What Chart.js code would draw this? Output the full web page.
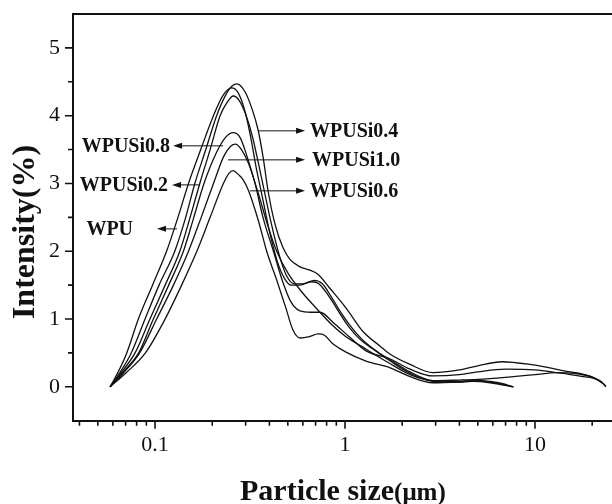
<!DOCTYPE html>
<html>
<head>
<meta charset="utf-8">
<script src="https://cdn.jsdelivr.net/npm/chart.js@4.4.1/dist/chart.umd.min.js"></script>
<style>
  html, body { margin: 0; padding: 0; background: #fff; }
</style>
</head>
<body>
<canvas id="psd" width="612" height="504"></canvas>
<script>
// particle size (um) / intensity (%)
const sizeWPU = [0.058, 0.064, 0.071, 0.0817, 0.097, 0.115, 0.132, 0.150, 0.174, 0.203, 0.228, 0.253, 0.272, 0.295, 0.318, 0.340, 0.364, 0.40, 0.44, 0.48, 0.52, 0.58, 0.66, 0.72, 0.83, 0.94, 1.05, 1.2, 1.5, 1.73, 2.2, 2.9, 4.0, 4.7, 5.8, 6.7, 7.7];
const intWPU  = [0, 0.22, 0.5, 1.0, 1.5, 2.0, 2.5, 3.0, 3.5, 4.0, 4.3, 4.41, 4.35, 4.1, 3.7, 3.25, 2.85, 2.3, 1.85, 1.6, 1.5, 1.5, 1.55, 1.53, 1.32, 1.08, 0.88, 0.7, 0.5, 0.38, 0.2, 0.08, 0.07, 0.09, 0.07, 0.04, 0.0];

const sizeSi02 = [0.058, 0.066, 0.0785, 0.094, 0.113, 0.135, 0.153, 0.172, 0.195, 0.22, 0.24, 0.258, 0.278, 0.30, 0.325, 0.35, 0.372, 0.41, 0.45, 0.49, 0.54, 0.6, 0.69, 0.76, 0.85, 0.96, 1.08, 1.25, 1.55, 1.73, 2.2, 2.9, 4.0, 4.8, 5.8, 6.7, 7.6];
const intSi02  = [0, 0.2, 0.5, 1.0, 1.5, 2.0, 2.5, 3.0, 3.5, 4.0, 4.2, 4.29, 4.22, 4.02, 3.7, 3.3, 2.95, 2.4, 1.95, 1.65, 1.52, 1.52, 1.57, 1.52, 1.32, 1.08, 0.88, 0.68, 0.48, 0.4, 0.22, 0.09, 0.08, 0.1, 0.08, 0.05, 0.0];

const sizeSi04 = [0.058, 0.065, 0.075, 0.0886, 0.105, 0.127, 0.145, 0.162, 0.185, 0.211, 0.235, 0.255, 0.270, 0.298, 0.324, 0.348, 0.370, 0.393, 0.428, 0.472, 0.513, 0.58, 0.654, 0.72, 0.834, 1.02, 1.24, 1.53, 1.73, 2.2, 2.9, 4.0, 5.0, 6.7, 9.4, 14, 20.3, 23, 23.6];
const intSi04  = [0, 0.2, 0.5, 1.0, 1.5, 2.0, 2.5, 3.0, 3.5, 4.0, 4.3, 4.44, 4.47, 4.35, 4.1, 3.8, 3.4, 2.9, 2.4, 2.05, 1.88, 1.77, 1.72, 1.66, 1.45, 1.15, 0.82, 0.6, 0.48, 0.33, 0.21, 0.25, 0.31, 0.37, 0.33, 0.24, 0.14, 0.04, 0.0];

const sizeSi06 = [0.058, 0.07, 0.089, 0.113, 0.138, 0.166, 0.195, 0.229, 0.245, 0.258, 0.275, 0.29, 0.31, 0.35, 0.387, 0.44, 0.49, 0.53, 0.58, 0.65, 0.72, 0.78, 0.866, 1.0, 1.29, 1.73, 2.2, 2.9, 4.0, 4.7, 5.8, 6.7, 7.7];
const intSi06  = [0, 0.2, 0.5, 1.0, 1.5, 2.0, 2.5, 3.0, 3.15, 3.19, 3.13, 3.06, 2.9, 2.45, 2.0, 1.55, 1.15, 0.85, 0.72, 0.74, 0.78, 0.76, 0.63, 0.52, 0.38, 0.28, 0.15, 0.06, 0.07, 0.08, 0.06, 0.03, 0.0];

const sizeSi08 = [0.058, 0.067, 0.082, 0.098, 0.118, 0.141, 0.16, 0.181, 0.21, 0.235, 0.258, 0.28, 0.305, 0.336, 0.37, 0.42, 0.47, 0.52, 0.58, 0.66, 0.74, 0.866, 1.06, 1.29, 1.73, 2.2, 2.9, 4.0, 5.0, 7.0, 10, 13, 17, 22, 23.6];
const intSi08  = [0, 0.2, 0.5, 1.0, 1.5, 2.0, 2.5, 3.0, 3.45, 3.68, 3.75, 3.68, 3.4, 3.0, 2.5, 2.0, 1.55, 1.25, 1.12, 1.1, 1.1, 0.95, 0.73, 0.53, 0.41, 0.26, 0.16, 0.18, 0.22, 0.26, 0.25, 0.21, 0.16, 0.09, 0.01];

const sizeSi10 = [0.058, 0.068, 0.083, 0.102, 0.125, 0.150, 0.175, 0.203, 0.23, 0.25, 0.265, 0.285, 0.31, 0.35, 0.39, 0.437, 0.5, 0.6, 0.7, 0.85, 1.0, 1.3, 1.73, 2.2, 2.9, 4.0, 5.0, 7.0, 10, 13, 16, 20, 22.5, 23.6];
const intSi10  = [0, 0.2, 0.5, 1.0, 1.5, 2.0, 2.5, 3.0, 3.4, 3.55, 3.58, 3.5, 3.3, 2.85, 2.4, 2.0, 1.68, 1.38, 1.17, 0.92, 0.75, 0.55, 0.34, 0.18, 0.09, 0.1, 0.11, 0.14, 0.18, 0.21, 0.2, 0.14, 0.06, 0.01];

// axis ticks
const xTickValues = [0.1, 1, 10];
const xTickLabels = ['0.1', '1', '10'];
const xMinorTicks = [0.04, 0.05, 0.06, 0.07, 0.08, 0.09, 0.2, 0.3, 0.4, 0.5, 0.6, 0.7, 0.8, 0.9, 2, 3, 4, 5, 6, 7, 8, 9, 20];
const yTickValues = [0, 1, 2, 3, 4, 5];
const yMinorTicks = [0.5, 1.5, 2.5, 3.5, 4.5];

// arrow labels (data coordinates)
const labelNames = ['WPUSi0.8', 'WPUSi0.2', 'WPU', 'WPUSi0.4', 'WPUSi1.0', 'WPUSi0.6'];
const arrowFromX = [0.228, 0.1725, 0.1306, 0.3484, 0.2422, 0.3162];
const arrowToX   = [0.1244, 0.1229, 0.1024, 0.616, 0.616, 0.616];
const arrowY     = [3.555, 2.979, 2.33, 3.776, 3.348, 2.891];
const labelX     = [0.1199, 0.1171, 0.0766, 0.6544, 0.6704, 0.6544];

const serif = "'Liberation Serif', 'Times New Roman', serif";

function pts(xs, ys) {
  return xs.map((x, i) => ({ x: x, y: ys[i] }));
}

function curve(label, xs, ys) {
  return {
    label: label,
    data: pts(xs, ys),
    borderColor: '#111',
    borderWidth: 1.3,
    pointRadius: 0,
    fill: false,
    cubicInterpolationMode: 'monotone'
  };
}

const decor = {
  id: 'decor',
  afterDraw(chart) {
    const ctx = chart.ctx;
    const a = chart.chartArea;
    const xs = chart.scales.x, ys = chart.scales.y;
    ctx.save();
    ctx.strokeStyle = '#111';
    ctx.fillStyle = '#111';

    // top frame line
    ctx.lineWidth = 2;
    ctx.beginPath();
    ctx.moveTo(a.left - 1, a.top);
    ctx.lineTo(a.right, a.top);
    ctx.stroke();

    // tick marks, outside
    ctx.lineWidth = 1.6;
    ctx.beginPath();
    xTickValues.forEach(v => { const p = xs.getPixelForValue(v); ctx.moveTo(p, a.bottom); ctx.lineTo(p, a.bottom + 8); });
    xMinorTicks.forEach(v => { const p = xs.getPixelForValue(v); ctx.moveTo(p, a.bottom); ctx.lineTo(p, a.bottom + 5); });
    yTickValues.forEach(v => { const p = ys.getPixelForValue(v); ctx.moveTo(a.left, p); ctx.lineTo(a.left - 8, p); });
    yMinorTicks.forEach(v => { const p = ys.getPixelForValue(v); ctx.moveTo(a.left, p); ctx.lineTo(a.left - 5, p); });
    ctx.stroke();

    // arrows + sample names
    ctx.lineWidth = 1;
    ctx.font = 'bold 20px ' + serif;
    ctx.textBaseline = 'middle';
    labelNames.forEach((name, i) => {
      const x0 = xs.getPixelForValue(arrowFromX[i]);
      const x1 = xs.getPixelForValue(arrowToX[i]);
      const y = ys.getPixelForValue(arrowY[i]);
      const dir = x1 < x0 ? -1 : 1;
      ctx.beginPath();
      ctx.moveTo(x0, y);
      ctx.lineTo(x1 - dir * 6, y);
      ctx.stroke();
      ctx.beginPath();
      ctx.moveTo(x1, y);
      ctx.lineTo(x1 - dir * 9, y - 3);
      ctx.lineTo(x1 - dir * 9, y + 3);
      ctx.closePath();
      ctx.fill();
      ctx.textAlign = dir < 0 ? 'right' : 'left';
      ctx.fillText(name, xs.getPixelForValue(labelX[i]), y + 1);
    });

    // axis titles
    ctx.textBaseline = 'alphabetic';
    ctx.font = 'bold 30px ' + serif;
    ctx.textAlign = 'left';
    ctx.fillText('Particle size', 240, 500);
    const w = ctx.measureText('Particle size').width;
    ctx.font = 'bold 25px ' + serif;
    ctx.fillText('(\u03bcm)', 240 + w, 500);

    ctx.translate(34, 232);
    ctx.rotate(-Math.PI / 2);
    ctx.font = 'bold 32px ' + serif;
    ctx.textAlign = 'center';
    ctx.fillText('Intensity(%)', 0, 0);
    ctx.restore();
  }
};

new Chart(document.getElementById('psd').getContext('2d'), {
  type: 'line',
  data: {
    datasets: [
      curve('WPU', sizeWPU, intWPU),
      curve('WPUSi0.2', sizeSi02, intSi02),
      curve('WPUSi0.4', sizeSi04, intSi04),
      curve('WPUSi0.6', sizeSi06, intSi06),
      curve('WPUSi0.8', sizeSi08, intSi08),
      curve('WPUSi1.0', sizeSi10, intSi10)
    ]
  },
  options: {
    responsive: false,
    animation: false,
    devicePixelRatio: 1,
    layout: { padding: { top: 14, right: 0, left: 0, bottom: 0 } },
    plugins: {
      legend: { display: false },
      tooltip: { enabled: false }
    },
    scales: {
      x: {
        type: 'logarithmic',
        position: 'bottom',
        min: 0.037,
        max: 25.43,
        grid: { display: false, drawTicks: false },
        border: { display: true, color: '#111', width: 2 },
        ticks: {
          color: '#111',
          font: { family: serif, size: 22 },
          padding: 11,
          maxRotation: 0,
          autoSkip: false,
          callback: (v) => xTickLabels[xTickValues.indexOf(v)] || ''
        },
        afterBuildTicks: (s) => { s.ticks = xTickValues.map(v => ({ value: v })); },
        afterFit: (s) => { s.height = 83.3; s.paddingLeft = 0; s.paddingRight = 0; }
      },
      y: {
        min: -0.5,
        max: 5.5,
        grid: { display: false, drawTicks: false },
        border: { display: true, color: '#111', width: 2 },
        ticks: {
          color: '#111',
          font: { family: serif, size: 22 },
          padding: 13,
          callback: (v) => String(v)
        },
        afterBuildTicks: (s) => { s.ticks = yTickValues.map(v => ({ value: v })); },
        afterFit: (s) => { s.width = 73; s.paddingTop = 0; s.paddingBottom = 0; }
      }
    }
  },
  plugins: [decor]
});
</script>
</body>
</html>
